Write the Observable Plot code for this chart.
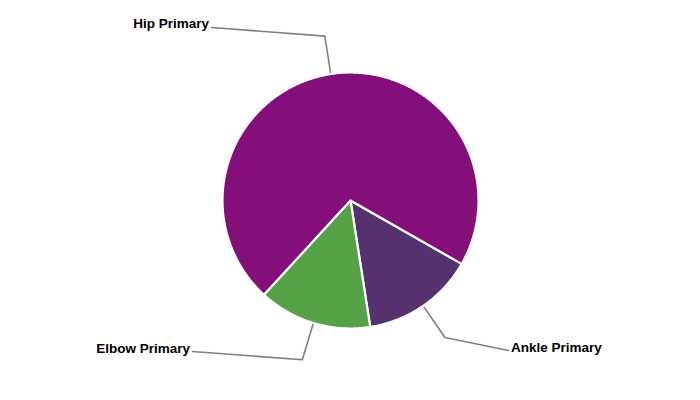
<!DOCTYPE html>
<html>
<head>
<meta charset="utf-8">
<script src="https://cdn.jsdelivr.net/npm/d3@7"></script>
<script src="https://cdn.jsdelivr.net/npm/@observablehq/plot@0.6"></script>
<style>
  html, body { margin: 0; padding: 0; background: #fff; }
  #chart { width: 700px; height: 400px; }
</style>
</head>
<body>
<div id="chart"></div>
<script>
// Data
const categories = ["Ankle Primary", "Elbow Primary", "Hip Primary"];
const values = [1, 1, 5];
const colors = ["#55326F", "#55A145", "#840F7B"];

// Layout (chart units: pixels relative to pie centre, y up)
const R = 128;
const startDeg = 119.7;
const labelEnds = [[158, -150], [-158, -151], [-139, 173]];
const labelAnchors = ["start", "end", "end"];
const labelLift = [2.5, 2.5, 3.5];

const total = d3.sum(values);
const toRad = Math.PI / 180;
let acc = startDeg * toRad;
const slicePts = [];
const leaderPts = [];
const labels = [];
categories.forEach((c, i) => {
  const a0 = acc;
  const a1 = acc + values[i] / total * 2 * Math.PI;
  acc = a1;
  slicePts.push({slice: c, x: 0, y: 0});
  const n = Math.max(2, Math.ceil((a1 - a0) / (0.5 * toRad)));
  for (let k = 0; k <= n; k++) {
    const a = a0 + (a1 - a0) * k / n;
    slicePts.push({slice: c, x: R * Math.sin(a), y: R * Math.cos(a)});
  }
  const am = (a0 + a1) / 2;
  leaderPts.push({slice: c, x: R * Math.sin(am), y: R * Math.cos(am)});
  leaderPts.push({slice: c, x: 1.3 * R * Math.sin(am), y: 1.3 * R * Math.cos(am)});
  leaderPts.push({slice: c, x: labelEnds[i][0], y: labelEnds[i][1]});
  const side = labelAnchors[i] === "start" ? 1 : -1;
  labels.push({slice: c, x: labelEnds[i][0] + side * 2.5, y: labelEnds[i][1] + labelLift[i], anchor: labelAnchors[i]});
});

const chart = Plot.plot({
  width: 700,
  height: 400,
  margin: 0,
  x: {domain: [-350, 350], axis: null},
  y: {domain: [-200, 200], axis: null},
  color: {domain: categories, range: colors},
  marks: [
    Plot.line(leaderPts, {x: "x", y: "y", z: "slice", stroke: "#7f7f7f", strokeWidth: 1.6}),
    Plot.line(slicePts, {x: "x", y: "y", z: "slice", fill: "slice", stroke: "#ffffff", strokeWidth: 2.2, curve: "linear-closed", strokeLinejoin: "round"}),
    Plot.text(labels.filter(d => d.anchor === "start"), {x: "x", y: "y", text: "slice", textAnchor: "start", fontSize: 13.5, fontWeight: "bold", fill: "#000"}),
    Plot.text(labels.filter(d => d.anchor === "end"), {x: "x", y: "y", text: "slice", textAnchor: "end", fontSize: 13.5, fontWeight: "bold", fill: "#000"})
  ],
  style: {fontFamily: "'Liberation Sans', Arial, sans-serif", background: "#fff"}
});
document.getElementById("chart").appendChild(chart);
</script>
</body>
</html>
